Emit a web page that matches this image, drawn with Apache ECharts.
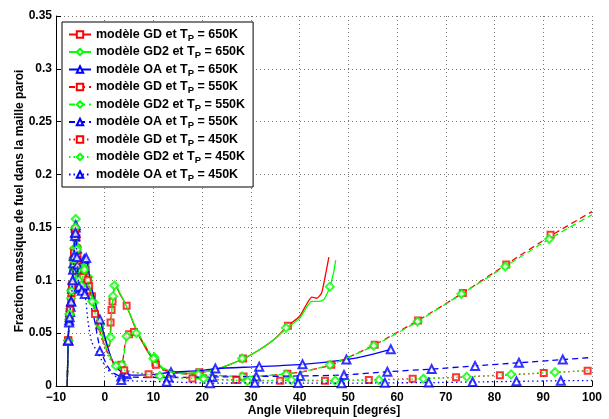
<!DOCTYPE html>
<html><head><meta charset="utf-8">
<script src="https://cdn.jsdelivr.net/npm/echarts@6/dist/echarts.min.js"></script>
<style>html,body{margin:0;padding:0;background:#fff}#c{width:609px;height:419px}</style>
</head><body><div id="c"></div>
<script>
// ---- Data (x: crank angle in degrees, y: mass fraction) ----
const xTicks = [-10, 0, 10, 20, 30, 40, 50, 60, 70, 80, 90, 100];
const yTicks = [0, 0.05, 0.1, 0.15, 0.2, 0.25, 0.3, 0.35];
const seriesNames = [
  'modèle GD et T_P = 650K', 'modèle GD2 et T_P = 650K', 'modèle OA et T_P = 650K',
  'modèle GD et T_P = 550K', 'modèle GD2 et T_P = 550K', 'modèle OA et T_P = 550K',
  'modèle GD et T_P = 450K', 'modèle GD2 et T_P = 450K', 'modèle OA et T_P = 450K'
];

const gd650Line = [[-7.7,0],[-7.5,0.043],[-7.3,0.062],[-7.1,0.072],[-6.9,0.082],[-6.7,0.095],[-6.5,0.11],[-6.3,0.128],[-6.1,0.145],[-5.95,0.156],[-5.8,0.14],[-5.6,0.122],[-5.4,0.108],[-5.2,0.097],[-5.0,0.094],[-4.7,0.1],[-4.4,0.11],[-4.1,0.114],[-3.8,0.11],[-3.0,0.093],[-2.0,0.074],[-1.0,0.057],[0,0.045],[0.6,0.037],[1.0,0.038],[1.3,0.065],[1.7,0.085],[2.1,0.095],[2.5,0.093],[3,0.088],[4,0.08],[5,0.07],[6,0.058],[7,0.048],[8,0.039],[9,0.031],[10,0.025],[11,0.02],[12,0.016],[14,0.013],[17,0.012],[20,0.013],[23,0.016],[26,0.021],[29,0.027],[32,0.035],[35,0.045],[37.6,0.057],[40,0.066],[41.5,0.078],[42.5,0.084],[43.5,0.083],[44.5,0.088],[45.3,0.105],[46,0.122]];
const gd650Marks = [[-7.5,0.043],[-7.3,0.062],[-7.1,0.072],[-6.9,0.082],[-6.7,0.095],[-6.5,0.11],[-6.3,0.128],[-6.1,0.145],[-5.8,0.14],[-5.6,0.122],[-5.4,0.108],[-5.2,0.097],[-4.7,0.1],[-4.4,0.11],[-3.9,0.11],[-2.6,0.085],[-1.0,0.057],[1.2,0.06],[1.4,0.072],[1.6,0.08],[4.5,0.076],[10.4,0.022],[19.4,0.013],[28.4,0.026],[37.6,0.057]];

const gd2650Line = [[-7.7,0],[-7.5,0.043],[-7.3,0.063],[-7.1,0.073],[-6.9,0.083],[-6.7,0.097],[-6.5,0.112],[-6.3,0.13],[-6.1,0.148],[-5.95,0.16],[-5.8,0.142],[-5.6,0.124],[-5.4,0.11],[-5.2,0.099],[-5.0,0.096],[-4.7,0.102],[-4.4,0.112],[-4.1,0.116],[-3.8,0.112],[-3.0,0.095],[-2.0,0.075],[-1.0,0.058],[0,0.046],[0.6,0.038],[1.0,0.04],[1.2,0.047],[1.5,0.075],[1.9,0.092],[2.1,0.097],[2.5,0.094],[3,0.089],[4,0.08],[5,0.07],[6,0.059],[7,0.049],[8,0.04],[9,0.032],[10,0.026],[11,0.021],[12,0.017],[14,0.014],[17,0.012],[20,0.013],[23,0.016],[26,0.021],[29,0.027],[32,0.035],[35,0.045],[37.4,0.055],[40,0.064],[41.5,0.075],[42.5,0.08],[44,0.08],[45,0.082],[46.2,0.094],[47,0.108],[47.4,0.119]];
const gd2650Marks = [[-7.5,0.043],[-7.3,0.063],[-7.1,0.073],[-6.9,0.083],[-6.7,0.097],[-6.5,0.112],[-6.3,0.13],[-6.1,0.148],[-5.95,0.158],[-5.7,0.132],[-5.4,0.11],[-5.1,0.097],[-4.6,0.105],[-4.2,0.115],[-3.4,0.103],[-2.2,0.079],[-1.0,0.058],[1.2,0.046],[1.7,0.085],[2.0,0.095],[10.2,0.027],[19.2,0.012],[28.2,0.026],[37.2,0.055],[46.2,0.094]];

const oa650Line = [[-7.7,0],[-7.5,0.043],[-7.3,0.062],[-7.1,0.072],[-6.9,0.082],[-6.7,0.095],[-6.5,0.11],[-6.3,0.128],[-6.1,0.148],[-5.95,0.152],[-5.8,0.138],[-5.6,0.118],[-5.4,0.103],[-5.2,0.095],[-5.0,0.093],[-4.7,0.1],[-4.4,0.115],[-4.1,0.121],[-3.7,0.12],[-3.0,0.1],[-2.0,0.08],[-1.0,0.063],[0,0.047],[1,0.031],[2,0.02],[3,0.015],[4,0.012],[5,0.0105],[7,0.0103],[10,0.011],[13.6,0.013],[19.5,0.0145],[22.7,0.0165],[31.7,0.0183],[40.6,0.0205],[49.6,0.025],[54,0.029],[58.7,0.0347]];
const oa650Marks = [[-7.5,0.043],[-7.3,0.062],[-7.1,0.07],[-6.9,0.08],[-6.7,0.095],[-6.5,0.11],[-6.3,0.125],[-6.1,0.145],[-5.95,0.152],[-5.7,0.13],[-5.4,0.103],[-5.1,0.094],[-4.6,0.105],[-4.2,0.12],[-3.8,0.121],[-1.0,0.063],[4.5,0.011],[13.6,0.013],[22.7,0.0165],[31.7,0.0183],[40.6,0.0205],[49.6,0.025],[58.7,0.0347]];

const gd550Line = [[-7.7,0],[-7.5,0.043],[-7.3,0.062],[-7.1,0.072],[-6.9,0.082],[-6.7,0.095],[-6.5,0.11],[-6.3,0.127],[-6.1,0.143],[-5.95,0.153],[-5.8,0.138],[-5.6,0.12],[-5.4,0.106],[-5.2,0.096],[-5.0,0.093],[-4.7,0.098],[-4.4,0.108],[-4.1,0.112],[-3.8,0.108],[-3,0.09],[-2,0.07],[-1,0.052],[0,0.038],[1,0.028],[2,0.021],[3,0.019],[3.6,0.021],[4.2,0.04],[4.8,0.048],[5.5,0.051],[6.3,0.05],[7,0.047],[8,0.04],[9,0.032],[10,0.025],[11,0.019],[12,0.015],[15,0.012],[20,0.0105],[25,0.0095],[30,0.009],[35,0.0105],[40,0.013],[46.5,0.02],[55.4,0.039],[64.3,0.062],[73.5,0.088],[82.4,0.115],[91.5,0.142],[100,0.165]];
const gd550Marks = [[-7.5,0.043],[-7.2,0.067],[-6.8,0.088],[-6.4,0.118],[-6.1,0.143],[-5.7,0.13],[-5.3,0.1],[-4.8,0.096],[-4.2,0.11],[-3.2,0.095],[3.4,0.02],[5.0,0.049],[6.0,0.051],[10.5,0.02],[19.5,0.0105],[28.5,0.009],[37.5,0.0115],[46.5,0.02],[55.4,0.039],[64.3,0.062],[73.5,0.088],[82.4,0.115],[91.5,0.143]];

const gd2550Line = [[-7.7,0],[-7.5,0.043],[-7.3,0.063],[-7.1,0.073],[-6.9,0.083],[-6.7,0.096],[-6.5,0.111],[-6.3,0.128],[-6.1,0.145],[-5.95,0.155],[-5.8,0.14],[-5.6,0.122],[-5.4,0.108],[-5.2,0.098],[-5.0,0.095],[-4.7,0.1],[-4.4,0.11],[-4.1,0.114],[-3.8,0.11],[-3,0.092],[-2,0.072],[-1,0.054],[0,0.04],[1,0.029],[2,0.022],[3,0.019],[3.6,0.021],[4.2,0.038],[4.6,0.047],[5.5,0.05],[6.5,0.05],[7,0.048],[8,0.041],[9,0.033],[10,0.026],[11,0.02],[12,0.016],[15,0.012],[20,0.011],[25,0.0095],[30,0.009],[35,0.0105],[40,0.013],[46.2,0.02],[55.2,0.038],[64.2,0.061],[73.2,0.087],[82.2,0.113],[91.2,0.139],[100,0.162]];
const gd2550Marks = [[-7.5,0.043],[-7.2,0.068],[-6.8,0.09],[-6.4,0.12],[-6.0,0.15],[-5.7,0.131],[-5.3,0.103],[-4.9,0.097],[-4.3,0.112],[-3.5,0.1],[3.5,0.02],[4.5,0.047],[6.5,0.05],[10.0,0.026],[19.2,0.011],[28.2,0.009],[37.2,0.011],[46.2,0.02],[55.2,0.038],[64.2,0.061],[73.2,0.087],[82.2,0.113],[91.2,0.139]];

const oa550Line = [[-7.7,0],[-7.5,0.043],[-7.3,0.06],[-7.1,0.07],[-6.9,0.08],[-6.7,0.092],[-6.5,0.108],[-6.3,0.125],[-6.1,0.142],[-5.95,0.15],[-5.8,0.135],[-5.6,0.115],[-5.4,0.1],[-5.2,0.093],[-5.0,0.092],[-4.6,0.095],[-4.2,0.095],[-3.4,0.085],[-2.5,0.07],[-2,0.06],[-1,0.036],[0.3,0.021],[1.5,0.013],[3.4,0.009],[8,0.0082],[13,0.008],[22,0.0085],[31,0.009],[40,0.0095],[49.1,0.0104],[58,0.0135],[67.1,0.016],[76,0.019],[85,0.022],[94,0.025],[100,0.027]];
const oa550Marks = [[-7.5,0.043],[-7.3,0.06],[-7.0,0.075],[-6.7,0.092],[-6.4,0.116],[-6.1,0.142],[-5.95,0.15],[-5.6,0.115],[-5.2,0.093],[-4.6,0.095],[-4.2,0.095],[-1.0,0.033],[3.4,0.009],[13.1,0.008],[22.1,0.0085],[31.1,0.009],[40.1,0.0095],[49.1,0.0104],[58,0.0135],[67.1,0.016],[76,0.019],[85,0.022],[94,0.025]];

const gd450Line = [[-7.7,0],[-7.5,0.043],[-7.3,0.062],[-7.1,0.072],[-6.9,0.082],[-6.7,0.095],[-6.5,0.11],[-6.3,0.126],[-6.1,0.142],[-5.95,0.15],[-5.8,0.136],[-5.6,0.119],[-5.4,0.105],[-5.2,0.095],[-5.0,0.092],[-4.7,0.097],[-4.4,0.106],[-4.1,0.11],[-3.8,0.106],[-3,0.088],[-2,0.068],[-1,0.05],[0,0.036],[1,0.026],[2,0.02],[3,0.017],[4,0.015],[6,0.013],[9,0.011],[12,0.009],[15,0.008],[18,0.007],[22,0.0063],[27,0.0057],[36,0.005],[45.2,0.005],[54.2,0.0057],[63.2,0.0069],[72.1,0.0082],[81.1,0.0101],[90.1,0.0123],[99.1,0.0145]];
const gd450Marks = [[-7.5,0.043],[-7.1,0.072],[-6.7,0.095],[-6.3,0.126],[-6.0,0.148],[-5.6,0.119],[-5.2,0.095],[-4.5,0.103],[-3.5,0.1],[-2,0.068],[4,0.015],[9,0.011],[18,0.007],[27,0.0057],[36,0.005],[45.2,0.005],[54.2,0.0057],[63.2,0.0069],[72.1,0.0082],[81.1,0.0101],[90.1,0.0123],[99.1,0.0145]];

const gd2450Line = [[-7.7,0],[-7.5,0.043],[-7.3,0.063],[-7.1,0.073],[-6.9,0.083],[-6.7,0.096],[-6.5,0.111],[-6.3,0.127],[-6.1,0.144],[-5.95,0.152],[-5.8,0.138],[-5.6,0.12],[-5.4,0.106],[-5.2,0.096],[-5.0,0.093],[-4.7,0.098],[-4.4,0.107],[-4.1,0.111],[-3.8,0.107],[-3,0.089],[-2,0.069],[-1,0.051],[0,0.037],[1,0.027],[2,0.02],[3,0.017],[4,0.015],[6,0.013],[11.3,0.0095],[15,0.008],[20.3,0.0068],[29.3,0.0047],[38.3,0.0057],[47.3,0.0052],[56.3,0.0057],[65.4,0.0069],[74.3,0.0088],[83.4,0.011],[92.4,0.013],[100,0.0145]];
const gd2450Marks = [[-7.5,0.043],[-7.2,0.068],[-6.8,0.09],[-6.4,0.119],[-6.0,0.15],[-5.7,0.129],[-5.3,0.1],[-4.8,0.095],[-4.2,0.11],[-2.6,0.08],[2.3,0.019],[11.3,0.0095],[20.3,0.0068],[29.3,0.0047],[38.3,0.0057],[47.3,0.0052],[56.3,0.0057],[65.4,0.0069],[74.3,0.0088],[83.4,0.011],[92.4,0.013]];

const oa450Line = [[-7.7,0],[-7.5,0.043],[-7.3,0.06],[-7.1,0.07],[-6.9,0.08],[-6.7,0.092],[-6.5,0.107],[-6.3,0.123],[-6.1,0.14],[-5.95,0.148],[-5.8,0.132],[-5.6,0.112],[-5.4,0.098],[-5.2,0.091],[-5.0,0.09],[-4.5,0.09],[-4.0,0.085],[-3.4,0.06],[-2.7,0.042],[-1.5,0.032],[-0.7,0.025],[0.4,0.017],[1.4,0.012],[3.4,0.0057],[8,0.0045],[12.7,0.004],[21.6,0.0027],[30.8,0.003],[39.7,0.0028],[48.6,0.0026],[57.5,0.003],[66.5,0.0032],[75.5,0.0038],[84.5,0.0044],[93.6,0.005],[100,0.0052]];
const oa450Marks = [[-7.5,0.043],[-7.2,0.065],[-6.9,0.08],[-6.6,0.1],[-6.3,0.123],[-6.0,0.145],[-5.7,0.122],[-5.3,0.094],[-4.7,0.09],[-4.1,0.087],[3.4,0.0057],[12.7,0.004],[21.6,0.0027],[30.8,0.003],[39.7,0.0028],[48.6,0.0026],[57.5,0.003],[66.5,0.0032],[75.5,0.0038],[84.5,0.0044],[93.6,0.005]];

// ---- chart construction ----
const RED = '#ff0000', GREEN = '#00ff00', BLUE = '#0000ff';
const DASH = [6, 4], DOT = [1.5, 3];
const defs = [
  {line: gd650Line,  marks: gd650Marks,  color: RED,   dash: 'solid', sym: 'emptyRect'},
  {line: gd2650Line, marks: gd2650Marks, color: GREEN, dash: 'solid', sym: 'emptyDiamond'},
  {line: oa650Line,  marks: oa650Marks,  color: BLUE,  dash: 'solid', sym: 'emptyTriangle'},
  {line: gd550Line,  marks: gd550Marks,  color: RED,   dash: DASH,    sym: 'emptyRect'},
  {line: gd2550Line, marks: gd2550Marks, color: GREEN, dash: DASH,    sym: 'emptyDiamond'},
  {line: oa550Line,  marks: oa550Marks,  color: BLUE,  dash: DASH,    sym: 'emptyTriangle'},
  {line: gd450Line,  marks: gd450Marks,  color: RED,   dash: DOT,     sym: 'emptyRect'},
  {line: gd2450Line, marks: gd2450Marks, color: GREEN, dash: DOT,     sym: 'emptyDiamond'},
  {line: oa450Line,  marks: oa450Marks,  color: BLUE,  dash: DOT,     sym: 'emptyTriangle'}
];
const symSize = s => s === 'emptyRect' ? 6 : 8;

const series = [];
defs.forEach((d, i) => {
  series.push({
    type: 'line', name: seriesNames[i], data: d.line, showSymbol: false,
    symbol: d.sym, symbolSize: symSize(d.sym), smooth: 0.2,
    lineStyle: {color: d.color, width: 1.3, type: d.dash},
    itemStyle: {color: d.color}, animation: false, silent: true, z: 2 + i
  });
  series.push({
    type: 'scatter', name: seriesNames[i], data: d.marks,
    symbol: d.sym, symbolSize: symSize(d.sym),
    itemStyle: {color: d.color, borderColor: d.color, borderWidth: 1},
    animation: false, silent: true, z: 2 + i
  });
});

const font = 'Liberation Sans, Arial, sans-serif';
const chart = echarts.init(document.getElementById('c'), null, {renderer: 'canvas'});
chart.setOption({
  backgroundColor: '#fff',
  animation: false,
  grid: {left: 56, right: 17, top: 16, bottom: 33, containLabel: false, outerBoundsMode: 'none'},
  xAxis: {
    type: 'value', min: xTicks[0], max: xTicks[xTicks.length - 1], interval: 10,
    name: 'Angle Vilebrequin [degrés]', nameLocation: 'middle', nameGap: 19, nameMoveOverlap: false,
    nameTextStyle: {fontFamily: font, fontWeight: 'bold', fontSize: 12, color: '#000'},
    axisLine: {show: true, onZero: false, lineStyle: {color: '#000', width: 1}},
    axisTick: {show: true, inside: true, length: 5, lineStyle: {color: '#000'}},
    axisLabel: {fontFamily: font, fontWeight: 'bold', fontSize: 12, color: '#000', margin: 6,
      formatter: v => String(v).replace('-', '\u2212')},
    splitLine: {show: true, lineStyle: {color: '#777', type: [1, 3], width: 1}}
  },
  yAxis: {
    type: 'value', min: yTicks[0], max: yTicks[yTicks.length - 1], interval: 0.05,
    name: 'Fraction massique de fuel dans la maille paroi', nameLocation: 'middle', nameGap: 30, nameMoveOverlap: false,
    nameTextStyle: {fontFamily: font, fontWeight: 'bold', fontSize: 12, color: '#000'},
    axisLine: {show: true, onZero: false, lineStyle: {color: '#000', width: 1}},
    axisTick: {show: true, inside: true, length: 5, lineStyle: {color: '#000'}},
    axisLabel: {fontFamily: font, fontWeight: 'bold', fontSize: 12, color: '#000', margin: 4,
      formatter: v => String(Math.round(v * 100) / 100)},
    splitLine: {show: true, lineStyle: {color: '#777', type: [1, 3], width: 1}}
  },
  legend: {
    data: seriesNames, orient: 'vertical', left: 62, top: 22,
    backgroundColor: '#fff', borderColor: '#000', borderWidth: 1, borderRadius: 0,
    padding: [6, 8, 4, 6], itemGap: 2.5, itemWidth: 22, itemHeight: 8,
    formatter: n => n.replace('T_P', 'T{sub|P}'),
    textStyle: {fontFamily: font, fontWeight: 'bold', fontSize: 12.5, color: '#000',
      rich: {sub: {fontFamily: font, fontWeight: 'bold', fontSize: 9.5, color: '#000', padding: [7, 0, 0, 0]}}}
  },
  series: series
});
</script>
</body></html>
